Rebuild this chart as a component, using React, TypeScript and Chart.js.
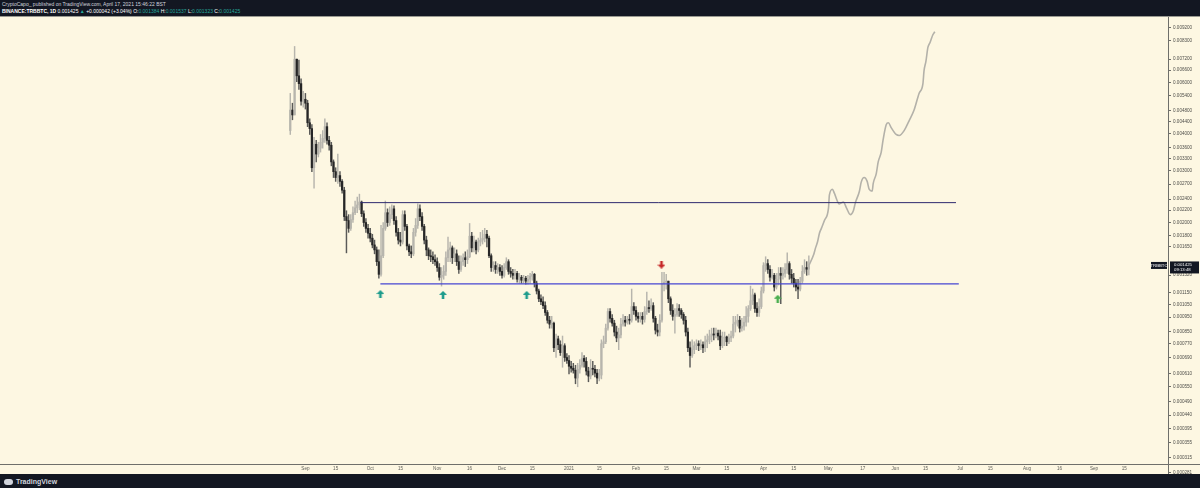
import React, { useEffect, useRef } from 'react';
import { Chart, registerables } from 'chart.js';

Chart.register(...registerables);

// ---- data (BTC prices, daily candles; x = days from 2020-09-01) ----
const SYMBOL = 'TRBBTC';
const FIRST_DAY = -7;
const FIRST_OPEN = 4107e-6;

const CLOSE = [
  4825e-6, 4644e-6, 7191e-6, 6312e-6, 5936e-6, 5171e-6, 5251e-6, 5091e-6, 4367e-6, 4171e-6,
  3068e-6, 3689e-6, 3416e-6, 3578e-6, 3746e-6, 3862e-6, 4235e-6, 3803e-6, 3661e-6, 3212e-6,
  2975e-6, 2841e-6, 2885e-6, 2756e-6, 2572e-6, 2091e-6, 2027e-6, 1906e-6, 2043e-6, 2156e-6,
  2240e-6, 2292e-6, 2345e-6, 2139e-6, 1996e-6, 1906e-6, 1834e-6, 1765e-6, 1674e-6, 1610e-6,
  1468e-6, 1329e-6, 1538e-6, 1906e-6, 2156e-6, 1996e-6, 2123e-6, 2222e-6, 2027e-6, 1848e-6,
  1739e-6, 1713e-6, 2123e-6, 1936e-6, 1661e-6, 1586e-6, 1561e-6, 1848e-6, 1951e-6, 2222e-6,
  2091e-6, 1936e-6, 1739e-6, 1610e-6, 1538e-6, 1526e-6, 1491e-6, 1468e-6, 1402e-6, 1299e-6,
  1319e-6, 1360e-6, 1514e-6, 1610e-6, 1636e-6, 1514e-6, 1561e-6, 1468e-6, 1381e-6, 1468e-6,
  1514e-6, 1491e-6, 1526e-6, 1793e-6, 1636e-6, 1713e-6, 1610e-6, 1713e-6, 1739e-6, 1765e-6,
  1820e-6, 1765e-6, 1538e-6, 1402e-6, 1424e-6, 1381e-6, 1402e-6, 1360e-6, 1319e-6, 1402e-6,
  1468e-6, 1360e-6, 1339e-6, 1319e-6, 1339e-6, 1279e-6, 1299e-6, 1269e-6, 1289e-6, 1260e-6,
  1279e-6, 1309e-6, 1329e-6, 1240e-6, 1166e-6, 1097e-6, 1072e-6, 1040e-6, 985e-6, 927e-6,
  899e-6, 906e-6, 747e-6, 801e-6, 765e-6, 719e-6, 759e-6, 692e-6, 676e-6, 646e-6,
  636e-6, 626e-6, 589e-6, 631e-6, 651e-6, 687e-6, 671e-6, 622e-6, 598e-6, 636e-6,
  631e-6, 612e-6, 589e-6, 603e-6, 771e-6, 783e-6, 871e-6, 993e-6, 941e-6, 906e-6,
  845e-6, 807e-6, 826e-6, 899e-6, 927e-6, 913e-6, 934e-6, 927e-6, 1032e-6, 1001e-6,
  956e-6, 941e-6, 956e-6, 934e-6, 993e-6, 1024e-6, 1016e-6, 1040e-6, 941e-6, 858e-6,
  845e-6, 927e-6, 1231e-6, 1250e-6, 1260e-6, 1097e-6, 1001e-6, 956e-6, 970e-6, 1016e-6,
  1001e-6, 970e-6, 927e-6, 845e-6, 747e-6, 703e-6, 736e-6, 759e-6, 771e-6, 759e-6,
  765e-6, 747e-6, 783e-6, 795e-6, 819e-6, 832e-6, 826e-6, 838e-6, 819e-6, 759e-6,
  807e-6, 813e-6, 783e-6, 807e-6, 819e-6, 899e-6, 913e-6, 927e-6, 871e-6, 885e-6,
  913e-6, 956e-6, 1016e-6, 1080e-6, 1131e-6, 1016e-6, 985e-6, 1032e-6, 1166e-6, 1424e-6,
  1446e-6, 1381e-6, 1299e-6, 1319e-6, 1203e-6, 1279e-6, 1339e-6, 1319e-6, 1339e-6, 1381e-6,
  1446e-6, 1329e-6, 1289e-6, 1240e-6, 1203e-6, 1184e-6, 1260e-6, 1360e-6, 1402e-6, 1384e-6,
  1425e-6,
];

const HIGH = [
  5498e-6, 5091e-6, 7947e-6, 7027e-6, 7136e-6, 6168e-6, 5583e-6, 5498e-6, 5211e-6, 4504e-6,
  4301e-6, 3892e-6, 3803e-6, 3746e-6, 3983e-6, 4107e-6, 4504e-6, 4367e-6, 3922e-6, 3746e-6,
  3263e-6, 3068e-6, 3416e-6, 2975e-6, 2798e-6, 2632e-6, 2189e-6, 2123e-6, 2123e-6, 2257e-6,
  2363e-6, 2437e-6, 2494e-6, 2363e-6, 2189e-6, 2059e-6, 1966e-6, 1906e-6, 1820e-6, 1739e-6,
  1648e-6, 1610e-6, 1951e-6, 1996e-6, 2363e-6, 2222e-6, 2257e-6, 2292e-6, 2274e-6, 2091e-6,
  1906e-6, 1848e-6, 2189e-6, 2189e-6, 1966e-6, 1686e-6, 1661e-6, 1906e-6, 2059e-6, 2309e-6,
  2292e-6, 2156e-6, 1966e-6, 1793e-6, 1636e-6, 1610e-6, 1586e-6, 1549e-6, 1514e-6, 1446e-6,
  1402e-6, 1424e-6, 1586e-6, 1779e-6, 1713e-6, 1661e-6, 1636e-6, 1610e-6, 1538e-6, 1538e-6,
  1561e-6, 1586e-6, 1610e-6, 1981e-6, 1848e-6, 1793e-6, 1739e-6, 1765e-6, 1848e-6, 1877e-6,
  1906e-6, 1877e-6, 1793e-6, 1561e-6, 1468e-6, 1468e-6, 1446e-6, 1435e-6, 1424e-6, 1446e-6,
  1514e-6, 1491e-6, 1402e-6, 1381e-6, 1381e-6, 1360e-6, 1339e-6, 1319e-6, 1319e-6, 1309e-6,
  1319e-6, 1339e-6, 1360e-6, 1339e-6, 1260e-6, 1184e-6, 1131e-6, 1114e-6, 1072e-6, 1001e-6,
  956e-6, 956e-6, 913e-6, 832e-6, 819e-6, 789e-6, 819e-6, 771e-6, 713e-6, 703e-6,
  671e-6, 661e-6, 651e-6, 661e-6, 681e-6, 719e-6, 703e-6, 692e-6, 641e-6, 681e-6,
  671e-6, 651e-6, 631e-6, 631e-6, 795e-6, 819e-6, 899e-6, 1016e-6, 1016e-6, 970e-6,
  927e-6, 885e-6, 871e-6, 941e-6, 970e-6, 956e-6, 956e-6, 970e-6, 1184e-6, 1064e-6,
  1032e-6, 985e-6, 985e-6, 985e-6, 1032e-6, 1157e-6, 1080e-6, 1097e-6, 1064e-6, 956e-6,
  899e-6, 970e-6, 1350e-6, 1350e-6, 1329e-6, 1260e-6, 1114e-6, 1048e-6, 1016e-6, 1056e-6,
  1048e-6, 1016e-6, 985e-6, 956e-6, 871e-6, 783e-6, 795e-6, 783e-6, 795e-6, 789e-6,
  795e-6, 783e-6, 819e-6, 832e-6, 858e-6, 871e-6, 871e-6, 871e-6, 858e-6, 858e-6,
  845e-6, 845e-6, 819e-6, 832e-6, 851e-6, 956e-6, 956e-6, 970e-6, 956e-6, 941e-6,
  956e-6, 1032e-6, 1040e-6, 1212e-6, 1184e-6, 1148e-6, 1064e-6, 1097e-6, 1203e-6, 1457e-6,
  1526e-6, 1491e-6, 1424e-6, 1381e-6, 1339e-6, 1339e-6, 1402e-6, 1402e-6, 1402e-6, 1446e-6,
  1573e-6, 1468e-6, 1381e-6, 1339e-6, 1279e-6, 1279e-6, 1299e-6, 1424e-6, 1491e-6, 1468e-6,
  1537e-6,
];

const LOW = [
  3983e-6, 4470e-6, 4644e-6, 6028e-6, 5669e-6, 5014e-6, 4937e-6, 4862e-6, 4235e-6, 3983e-6,
  2975e-6, 2612e-6, 3212e-6, 3339e-6, 3469e-6, 3578e-6, 3746e-6, 3689e-6, 3523e-6, 3115e-6,
  2841e-6, 2756e-6, 2714e-6, 2652e-6, 2513e-6, 2027e-6, 1573e-6, 1848e-6, 1877e-6, 1996e-6,
  2123e-6, 2156e-6, 2205e-6, 2091e-6, 1936e-6, 1848e-6, 1765e-6, 1713e-6, 1636e-6, 1561e-6,
  1424e-6, 1289e-6, 1309e-6, 1514e-6, 1877e-6, 1936e-6, 1951e-6, 2059e-6, 1966e-6, 1793e-6,
  1686e-6, 1661e-6, 1686e-6, 1877e-6, 1610e-6, 1538e-6, 1514e-6, 1538e-6, 1793e-6, 1906e-6,
  2027e-6, 1877e-6, 1686e-6, 1538e-6, 1491e-6, 1468e-6, 1446e-6, 1424e-6, 1360e-6, 1269e-6,
  1212e-6, 1279e-6, 1319e-6, 1468e-6, 1468e-6, 1446e-6, 1468e-6, 1424e-6, 1339e-6, 1360e-6,
  1424e-6, 1413e-6, 1446e-6, 1514e-6, 1586e-6, 1586e-6, 1561e-6, 1586e-6, 1661e-6, 1686e-6,
  1713e-6, 1648e-6, 1514e-6, 1360e-6, 1360e-6, 1339e-6, 1339e-6, 1319e-6, 1289e-6, 1299e-6,
  1381e-6, 1329e-6, 1299e-6, 1279e-6, 1279e-6, 1250e-6, 1240e-6, 1240e-6, 1240e-6, 1231e-6,
  1231e-6, 1240e-6, 1269e-6, 1203e-6, 1139e-6, 1072e-6, 1048e-6, 1016e-6, 963e-6, 906e-6,
  871e-6, 871e-6, 724e-6, 692e-6, 736e-6, 703e-6, 641e-6, 671e-6, 661e-6, 608e-6,
  617e-6, 612e-6, 563e-6, 550e-6, 612e-6, 641e-6, 641e-6, 603e-6, 572e-6, 585e-6,
  603e-6, 594e-6, 563e-6, 576e-6, 585e-6, 747e-6, 771e-6, 858e-6, 913e-6, 885e-6,
  819e-6, 783e-6, 736e-6, 807e-6, 885e-6, 885e-6, 899e-6, 899e-6, 913e-6, 970e-6,
  927e-6, 913e-6, 913e-6, 899e-6, 913e-6, 970e-6, 985e-6, 1001e-6, 913e-6, 832e-6,
  819e-6, 819e-6, 913e-6, 1166e-6, 1184e-6, 1064e-6, 970e-6, 927e-6, 838e-6, 956e-6,
  956e-6, 941e-6, 899e-6, 819e-6, 724e-6, 641e-6, 692e-6, 713e-6, 736e-6, 730e-6,
  736e-6, 719e-6, 724e-6, 747e-6, 771e-6, 783e-6, 795e-6, 807e-6, 795e-6, 736e-6,
  747e-6, 759e-6, 759e-6, 771e-6, 783e-6, 807e-6, 845e-6, 885e-6, 845e-6, 851e-6,
  858e-6, 885e-6, 913e-6, 1001e-6, 1048e-6, 985e-6, 956e-6, 956e-6, 1016e-6, 1148e-6,
  1360e-6, 1339e-6, 1260e-6, 1279e-6, 1166e-6, 1184e-6, 1222e-6, 1056e-6, 1279e-6, 1299e-6,
  1339e-6, 1279e-6, 1240e-6, 1203e-6, 1166e-6, 1097e-6, 1166e-6, 1240e-6, 1339e-6, 1319e-6,
  1323e-6,
];

// projected path (hand drawn)
const PROJ_DAY = [
  233, 235.2, 236.1, 237.0, 237.9, 238.8, 240.2, 242.1, 242.5, 243.9, 244.8, 247.1, 249.0, 250.4,
  252.2, 253.6, 254.5, 256.4, 257.2, 258.6, 260.0, 260.9, 262.3, 262.8, 264.2, 265.1, 266.5, 267.4,
  268.8, 269.8, 271.1, 273.4, 274.8, 277.1, 279.4, 281.7, 284.0, 285.8, 286.3, 287.2, 288.1, 289.1,
  290.4, 291.3,
];
const PROJ_PRICE = [
  1425e-6, 1549e-6, 1636e-6, 1713e-6, 1834e-6, 1906e-6, 2027e-6, 2240e-6, 2475e-6, 2592e-6,
  2513e-6, 2309e-6, 2345e-6, 2240e-6, 2123e-6, 2189e-6, 2327e-6, 2552e-6, 2735e-6, 2841e-6,
  2756e-6, 2592e-6, 2552e-6, 2714e-6, 2930e-6, 3212e-6, 3469e-6, 3833e-6, 4301e-6, 4367e-6,
  4203e-6, 3983e-6, 3952e-6, 4107e-6, 4435e-6, 4825e-6, 5498e-6, 5936e-6, 6561e-6, 7082e-6,
  7887e-6, 8195e-6, 8714e-6, 8918e-6,
];

// horizontal levels
const UPPER_LEVEL = 0.002333;
const UPPER_SPAN = [25.5, 301.1];
const LOWER_LEVEL = 0.001233;
const LOWER_SPAN = [34.7, 302.4];

// arrow markers
const ARROW_DAY = [34.7, 63.7, 102.4, 218.6, 164.8];
const ARROW_PRICE = [1139e-6, 1131e-6, 1131e-6, 1097e-6, 1435e-6];
const ARROW_KIND = ['teal', 'teal', 'teal', 'green', 'red'];

// axes
const X_TICK_DAYS = [0, 14, 30, 44, 61, 76, 91, 105, 122, 136, 153, 167, 181, 195, 212, 226, 242, 258, 273, 287, 303, 317, 334, 349, 365, 379];
const X_TICK_LABELS = ['Sep', '15', 'Oct', '15', 'Nov', '16', 'Dec', '15', '2021', '15', 'Feb', '15', 'Mar', '15', 'Apr', '15', 'May', '17', 'Jun', '15', 'Jul', '15', 'Aug', '16', 'Sep', '15'];
const Y_TICKS = [
  0.0092, 0.0083, 0.0072, 0.0066, 0.006, 0.0054, 0.0048, 0.0044, 0.004, 0.0036, 0.0033, 0.003, 0.0027,
  0.0024, 0.0022, 0.002, 0.0018, 0.00165, 0.00132, 0.00115, 0.00105, 0.00095, 0.00085, 0.00077,
  0.00069, 0.00061, 0.00055, 0.00049, 0.00044, 0.000395, 0.000355, 0.000315, 0.000281,
];

const HEADER_1 = 'CryptoCapo_ published on TradingView.com, April 17, 2021 15:46:22 BST';
const HEADER_SYMBOL = 'BINANCE:TRBBTC, 1D';
const HEADER_LAST = '0.001425';
const HEADER_CHANGE = '+0.000042 (+3.04%)';
const HEADER_OHLC = [['O:', '0.001384'], ['H:', '0.001537'], ['L:', '0.001323'], ['C:', '0.001425']];
const COUNTDOWN = '09:13:48';

const FONT = '"Liberation Sans", Arial, sans-serif';
const CREAM = '#fdf7e2';
const DARK = '#131722';

function makeArrow(color: string, down: boolean) {
  const c = document.createElement('canvas');
  c.width = 8;
  c.height = 8;
  const g = c.getContext('2d')!;
  g.fillStyle = color;
  g.beginPath();
  const pts = [[4, 0], [8, 4], [5.3, 4], [5.3, 8], [2.7, 8], [2.7, 4], [0, 4]];
  pts.forEach(([x, y], i) => {
    const yy = down ? 8 - y : y;
    if (i === 0) g.moveTo(x, yy);
    else g.lineTo(x, yy);
  });
  g.closePath();
  g.fill();
  return c;
}

export default function App() {
  const ref = useRef<HTMLCanvasElement | null>(null);

  useEffect(() => {
    document.body.style.margin = '0';
    const canvas = ref.current!;
    const days = CLOSE.map((_, i) => FIRST_DAY + i);
    const opens = CLOSE.map((_, i) => (i === 0 ? FIRST_OPEN : CLOSE[i - 1]));
    const isUp = CLOSE.map((c, i) => c >= opens[i]);
    const UPC = '#b7b5ad';
    const DNC = '#262626';
    const UPW = '#b7b5ad';
    const DNW = '#5a5a58';

    const arrowImgs: Record<string, HTMLCanvasElement> = {
      teal: makeArrow('#1e9c8c', false),
      green: makeArrow('#4caf50', false),
      red: makeArrow('#c62828', true),
    };

    const frame = {
      id: 'frame',
      afterDraw(chart: any) {
        const { ctx, chartArea, scales } = chart;
        ctx.save();
        ctx.strokeStyle = '#6f6f6a';
        ctx.lineWidth = 1;
        ctx.beginPath();
        ctx.moveTo(Math.round(chartArea.right) + 0.5, 0);
        ctx.lineTo(Math.round(chartArea.right) + 0.5, chart.height);
        ctx.moveTo(0, Math.round(chartArea.bottom) + 0.5);
        ctx.lineTo(chart.width, Math.round(chartArea.bottom) + 0.5);
        ctx.stroke();
        // last price tag
        const last = CLOSE[CLOSE.length - 1];
        const py = scales.y.getPixelForValue(last);
        ctx.fillStyle = DARK;
        ctx.fillRect(chartArea.right - 17, py - 3.5, 16, 7);
        ctx.fillRect(chartArea.right + 2, py - 4, 29, 12);
        ctx.fillStyle = '#ffffff';
        ctx.font = `4.3px ${FONT}`;
        ctx.textBaseline = 'middle';
        ctx.textAlign = 'center';
        ctx.fillText(SYMBOL, chartArea.right - 9, py);
        ctx.textAlign = 'left';
        ctx.fillText(last.toFixed(6), chartArea.right + 6, py - 0.5);
        ctx.fillText(COUNTDOWN, chartArea.right + 6, py + 4.8);
        ctx.restore();
      },
    };

    const chart = new Chart(canvas, {
      type: 'bar',
      data: {
        datasets: [
          {
            type: 'line',
            data: ARROW_DAY.map((d, i) => ({ x: d, y: ARROW_PRICE[i] })),
            showLine: false,
            pointStyle: ARROW_KIND.map((k) => arrowImgs[k]) as any,
            pointRadius: 4,
            order: 1,
          } as any,
          {
            type: 'line',
            data: [{ x: LOWER_SPAN[0], y: LOWER_LEVEL }, { x: LOWER_SPAN[1], y: LOWER_LEVEL }],
            borderColor: '#4646d2',
            borderWidth: 1.4,
            pointRadius: 0,
            order: 2,
          },
          {
            type: 'line',
            data: [{ x: UPPER_SPAN[0], y: UPPER_LEVEL }, { x: UPPER_SPAN[1], y: UPPER_LEVEL }],
            borderColor: '#2e2a6e',
            borderWidth: 1,
            pointRadius: 0,
            order: 2,
          },
          {
            type: 'line',
            data: PROJ_DAY.map((d, i) => ({ x: d, y: PROJ_PRICE[i] })),
            borderColor: '#b3b1a9',
            borderWidth: 1.6,
            pointRadius: 0,
            cubicInterpolationMode: 'monotone',
            order: 3,
          },
          {
            type: 'bar',
            data: days.map((d, i) => ({ x: d, y: [opens[i], CLOSE[i]] })) as any,
            backgroundColor: isUp.map((u) => (u ? UPC : DNC)),
            barThickness: 1.6,
            minBarLength: 1,
            grouped: false,
            borderWidth: 0,
            order: 4,
          },
          {
            type: 'bar',
            data: days.map((d, i) => ({
              x: d,
              y: [Math.min(LOW[i], opens[i], CLOSE[i]), Math.max(HIGH[i], opens[i], CLOSE[i])],
            })) as any,
            backgroundColor: isUp.map((u) => (u ? UPW : DNW)),
            barThickness: 0.8,
            grouped: false,
            borderWidth: 0,
            order: 5,
          },
        ],
      },
      options: {
        animation: false,
        responsive: false,
        devicePixelRatio: 1,
        layout: { padding: { top: 0, left: 0, right: 0, bottom: 0 } },
        plugins: { legend: { display: false }, tooltip: { enabled: false } },
        events: [],
        scales: {
          x: {
            type: 'linear',
            min: -139.03,
            max: 399.22,
            offset: false,
            afterBuildTicks: (s: any) => {
              s.ticks = X_TICK_DAYS.map((v) => ({ value: v }));
            },
            afterFit: (s: any) => {
              s.height = 10;
            },
            ticks: {
              autoSkip: false,
              maxRotation: 0,
              padding: 2,
              color: '#5d5d58',
              font: { size: 4.6, family: FONT },
              callback: (_v: any, i: number) => X_TICK_LABELS[i],
            },
            grid: { display: false, drawOnChartArea: false, drawTicks: false, offset: false },
            border: { display: false },
          },
          y: {
            type: 'logarithmic',
            position: 'right',
            min: 0.00031161,
            max: 0.0096288,
            afterBuildTicks: (s: any) => {
              s.ticks = [...Y_TICKS].sort((a, b) => a - b).map((v) => ({ value: v }));
            },
            afterFit: (s: any) => {
              s.width = 32;
            },
            ticks: {
              autoSkip: false,
              padding: 2,
              color: '#4f4f4b',
              font: { size: 4.6, family: FONT },
              callback: (v: any) => Number(v).toFixed(6),
            },
            grid: { display: true, drawOnChartArea: false, drawTicks: true, tickLength: 3, color: '#6f6f6a' },
            border: { display: false },
          },
        },
      } as any,
      plugins: [frame],
    });
    return () => chart.destroy();
  }, []);

  return (
    <div style={{ position: 'relative', width: 1200, height: 488, background: DARK, overflow: 'hidden', fontFamily: FONT }}>
      <div style={{ position: 'absolute', left: 2, top: 1, fontSize: 5, lineHeight: '6px', color: '#d1d4dc', whiteSpace: 'nowrap' }}>
        <div>{HEADER_1}</div>
        <div style={{ marginTop: 0.5 }}>
          <span style={{ color: '#ffffff', fontWeight: 'bold' }}>{HEADER_SYMBOL}</span>{' '}
          <span style={{ color: '#ffffff' }}>{HEADER_LAST}</span>{' '}
          <span style={{ color: '#26a69a' }}>▲</span>{' '}
          <span style={{ color: '#ffffff' }}>{HEADER_CHANGE}</span>
          {HEADER_OHLC.map(([k, v]) => (
            <span key={k}>
              {' '}
              <span style={{ color: '#ffffff' }}>{k}</span>
              <span style={{ color: '#26a69a' }}>{v}</span>
            </span>
          ))}
        </div>
      </div>
      <div style={{ position: 'absolute', left: 0, top: 16, width: 1200, height: 1, background: '#9a9a92' }} />
      <div style={{ position: 'absolute', left: 0, top: 17, width: 1200, height: 457, background: CREAM }}>
        <canvas ref={ref} width={1200} height={457} style={{ display: 'block', width: 1200, height: 457 }} />
      </div>
      <div style={{ position: 'absolute', left: 4, top: 477, height: 9, display: 'flex', alignItems: 'center', color: '#d1d4dc', fontSize: 7, fontWeight: 'bold' }}>
        <div style={{ width: 9, height: 6, borderRadius: 3, background: '#d1d4dc', marginRight: 3 }} />
        <span>TradingView</span>
      </div>
    </div>
  );
}
